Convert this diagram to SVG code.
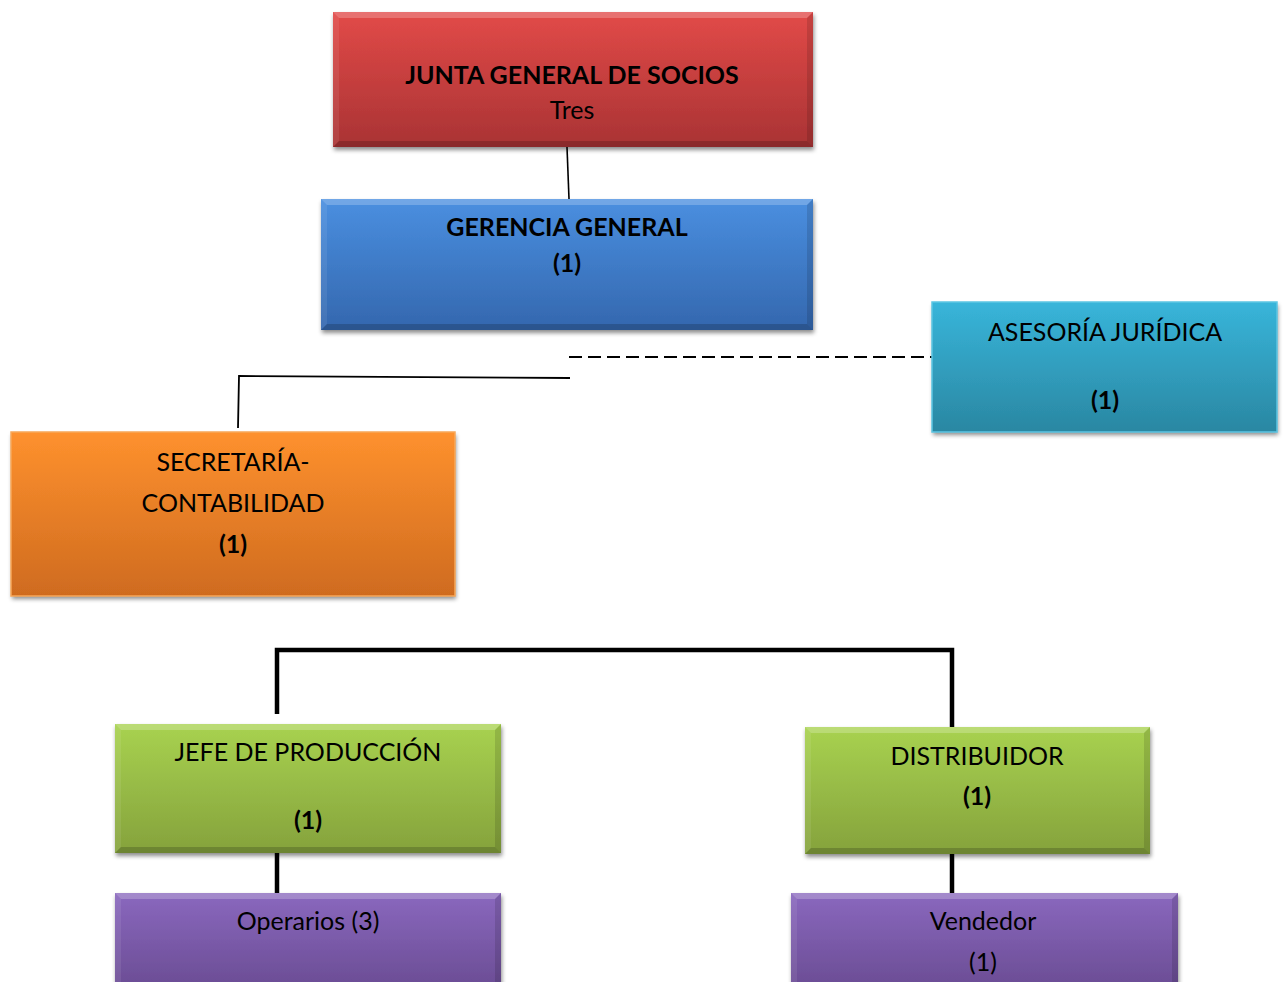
<svg xmlns="http://www.w3.org/2000/svg" width="1284" height="982" viewBox="0 0 1284 982">
  <defs>
    <linearGradient id="gRed" x1="0" y1="0" x2="0" y2="1">
      <stop offset="0" stop-color="#e24a48"/>
      <stop offset="1" stop-color="#a93334"/>
    </linearGradient>
    <linearGradient id="gBlue" x1="0" y1="0" x2="0" y2="1">
      <stop offset="0" stop-color="#4a8fe0"/>
      <stop offset="1" stop-color="#3467ae"/>
    </linearGradient>
    <linearGradient id="gCyan" x1="0" y1="0" x2="0" y2="1">
      <stop offset="0" stop-color="#38b5da"/>
      <stop offset="1" stop-color="#2a87a2"/>
    </linearGradient>
    <linearGradient id="gOrange" x1="0" y1="0" x2="0" y2="1">
      <stop offset="0" stop-color="#fe912e"/>
      <stop offset="1" stop-color="#cf6b1f"/>
    </linearGradient>
    <linearGradient id="gGreen" x1="0" y1="0" x2="0" y2="1">
      <stop offset="0" stop-color="#a8d250"/>
      <stop offset="1" stop-color="#85a23c"/>
    </linearGradient>
    <linearGradient id="gPurple" x1="0" y1="0" x2="0" y2="1">
      <stop offset="0" stop-color="#8a68be"/>
      <stop offset="1" stop-color="#694b92"/>
    </linearGradient>
    <filter id="shadow" x="-5%" y="-5%" width="112%" height="120%">
      <feDropShadow dx="1" dy="3" stdDeviation="2" flood-color="#000" flood-opacity="0.45"/>
    </filter>
  </defs>
  <style>
    text { font-family: "Lato", "Open Sans", "Liberation Sans", sans-serif; font-size: 25px; fill: #000; text-anchor: middle; }
    .b { font-weight: bold; }
    .lit { fill: #fff; fill-opacity: 0.22; }
    .side { fill: #fff; fill-opacity: 0.08; }
    .dark { fill: #000; fill-opacity: 0.18; }
    .rdark { fill: #000; fill-opacity: 0.12; }
    .conn { fill: none; stroke: #000; }
  </style>

  <rect width="1284" height="982" fill="#fff"/>

  <!-- connectors -->
  <g id="connectors">
    <line class="conn" x1="567" y1="147" x2="569" y2="199" stroke-width="1.6"/>
    <line class="conn" x1="569" y1="357" x2="935" y2="357" stroke-width="2" stroke-dasharray="13,6"/>
    <polyline class="conn" points="570,378 239,376 238,428" stroke-width="1.8"/>
    <polyline class="conn" points="277,714 277,650 952,650 952,727" stroke-width="4.5"/>
    <line class="conn" x1="277" y1="853" x2="277" y2="893" stroke-width="4.5"/>
    <line class="conn" x1="952" y1="854" x2="952" y2="893" stroke-width="4.5"/>
  </g>

  <!-- JUNTA GENERAL DE SOCIOS -->
  <g id="junta">
    <rect x="333" y="12" width="480" height="135" fill="url(#gRed)" filter="url(#shadow)"/>
    <polygon class="lit" points="333,12 813,12 807,18 339,18"/>
    <polygon class="side" points="333,12 339,18 339,141 333,147"/>
    <polygon class="dark" points="333,147 339,141 807,141 813,147"/>
    <polygon class="rdark" points="813,12 813,147 807,141 807,18"/>
    <text x="572" y="84" class="b">JUNTA GENERAL DE SOCIOS</text>
    <text x="572" y="119">Tres</text>
  </g>

  <!-- GERENCIA GENERAL -->
  <g id="gerencia">
    <rect x="321" y="199" width="492" height="131" fill="url(#gBlue)" filter="url(#shadow)"/>
    <polygon class="lit" points="321,199 813,199 807,205 327,205"/>
    <polygon class="side" points="321,199 327,205 327,324 321,330"/>
    <polygon class="dark" points="321,330 327,324 807,324 813,330"/>
    <polygon class="rdark" points="813,199 813,330 807,324 807,205"/>
    <text x="567" y="236" class="b">GERENCIA GENERAL</text>
    <text x="567" y="272" class="b">(1)</text>
  </g>

  <!-- ASESORÍA JURÍDICA -->
  <g id="asesoria">
    <rect x="932" y="302" width="345" height="130" fill="url(#gCyan)" filter="url(#shadow)"/>
    <rect x="932" y="302" width="345" height="130" fill="none" stroke="#5cc6e4" stroke-width="1.5"/>
    <text x="1105" y="341">ASESORÍA JURÍDICA</text>
    <text x="1105" y="409" class="b">(1)</text>
  </g>

  <!-- SECRETARÍA-CONTABILIDAD -->
  <g id="secretaria">
    <rect x="11" y="432" width="444" height="164" fill="url(#gOrange)" filter="url(#shadow)"/>
    <rect x="11" y="432" width="444" height="164" fill="none" stroke="#f8a85a" stroke-width="1.5"/>
    <text x="233" y="471">SECRETARÍA-</text>
    <text x="233" y="512">CONTABILIDAD</text>
    <text x="233" y="553" class="b">(1)</text>
  </g>

  <!-- JEFE DE PRODUCCIÓN -->
  <g id="jefe">
    <rect x="115" y="724" width="386" height="129" fill="url(#gGreen)" filter="url(#shadow)"/>
    <polygon class="lit" points="115,724 501,724 495,730 121,730"/>
    <polygon class="side" points="115,724 121,730 121,847 115,853"/>
    <polygon class="dark" points="115,853 121,847 495,847 501,853"/>
    <polygon class="rdark" points="501,724 501,853 495,847 495,730"/>
    <text x="308" y="761">JEFE DE PRODUCCIÓN</text>
    <text x="308" y="829" class="b">(1)</text>
  </g>

  <!-- DISTRIBUIDOR -->
  <g id="distribuidor">
    <rect x="805" y="727" width="345" height="127" fill="url(#gGreen)" filter="url(#shadow)"/>
    <polygon class="lit" points="805,727 1150,727 1144,733 811,733"/>
    <polygon class="side" points="805,727 811,733 811,848 805,854"/>
    <polygon class="dark" points="805,854 811,848 1144,848 1150,854"/>
    <polygon class="rdark" points="1150,727 1150,854 1144,848 1144,733"/>
    <text x="977" y="765">DISTRIBUIDOR</text>
    <text x="977" y="805" class="b">(1)</text>
  </g>

  <!-- Operarios -->
  <g id="operarios">
    <rect x="115" y="893" width="386" height="100" fill="url(#gPurple)" filter="url(#shadow)"/>
    <polygon class="lit" points="115,893 501,893 495,899 121,899"/>
    <polygon class="side" points="115,893 121,899 121,993 115,993"/>
    <polygon class="rdark" points="501,893 501,993 495,993 495,899"/>
    <text x="308" y="930">Operarios (3)</text>
  </g>

  <!-- Vendedor -->
  <g id="vendedor">
    <rect x="791" y="893" width="387" height="100" fill="url(#gPurple)" filter="url(#shadow)"/>
    <polygon class="lit" points="791,893 1178,893 1172,899 797,899"/>
    <polygon class="side" points="791,893 797,899 797,993 791,993"/>
    <polygon class="rdark" points="1178,893 1178,993 1172,993 1172,899"/>
    <text x="983" y="930">Vendedor</text>
    <text x="983" y="971">(1)</text>
  </g>
</svg>
